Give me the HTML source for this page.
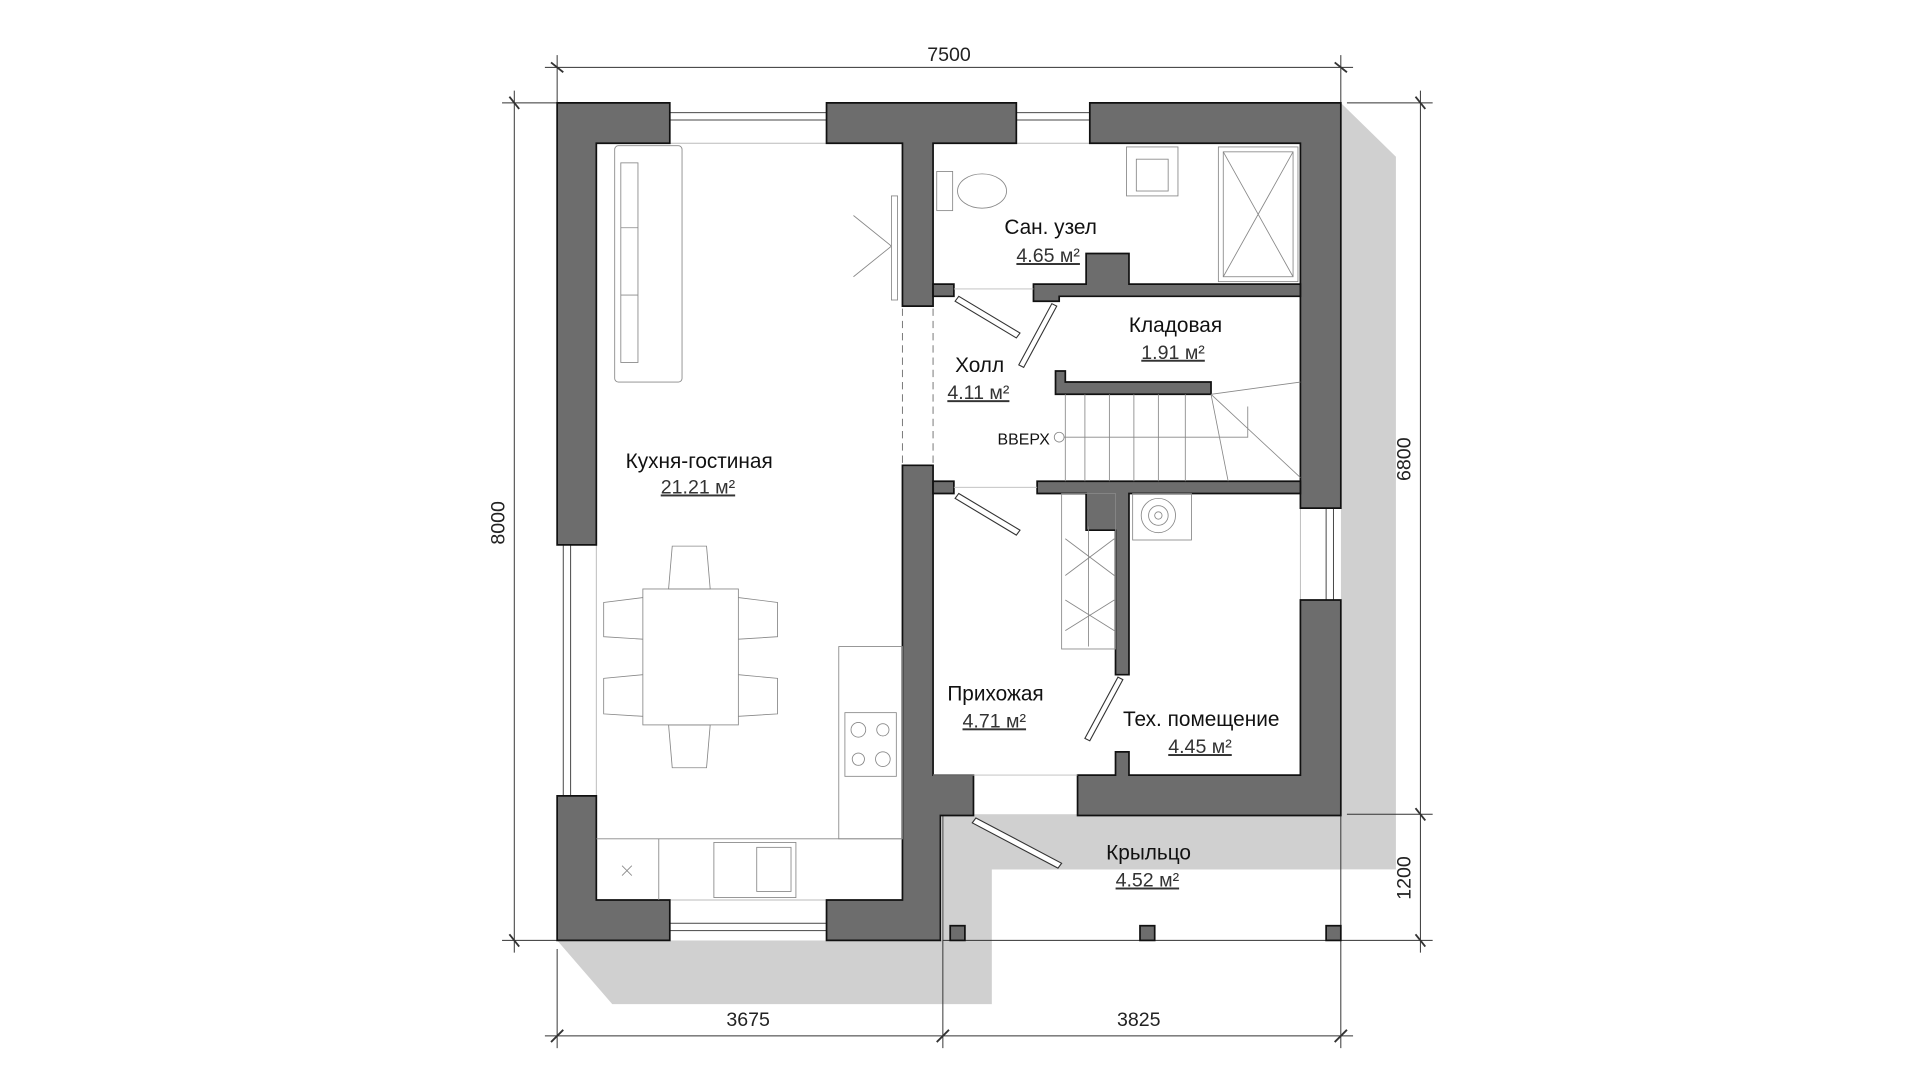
<!DOCTYPE html>
<html><head><meta charset="utf-8"><style>
html,body{margin:0;padding:0;background:#fff;width:1920px;height:1080px;overflow:hidden}
svg{display:block}
text{font-family:"Liberation Sans","DejaVu Sans",sans-serif}
</style></head><body>
<svg width="1920" height="1080" viewBox="0 0 1568 882" preserveAspectRatio="none" xmlns="http://www.w3.org/2000/svg">
<rect width="1568" height="882" fill="#fff"/>
<!-- shadow -->
<polygon points="455,768 500,820 810,820 810,710 1140,710 1140,128 1095,84 1095,665 770,665 770,768" fill="#d0d0d0"/>
<!-- house interior white -->
<rect x="455" y="84" width="315" height="684" fill="#fff"/>
<rect x="770" y="84" width="325" height="581" fill="#fff"/>
<rect x="770" y="665" width="325" height="45" fill="#d0d0d0"/>
<!-- dimension lines -->
<g stroke="#333" stroke-width="0.8" fill="none">
<line x1="445" y1="55" x2="1105" y2="55"/>
<line x1="455" y1="45" x2="455" y2="84"/><line x1="1095" y1="45" x2="1095" y2="84"/>
<line x1="450" y1="51" x2="460" y2="59" stroke-width="1.5"/><line x1="1090" y1="51" x2="1100" y2="59" stroke-width="1.5"/>
<line x1="420" y1="74" x2="420" y2="778"/>
<line x1="410" y1="84" x2="455" y2="84"/><line x1="410" y1="768" x2="455" y2="768"/>
<line x1="416" y1="79" x2="424" y2="89" stroke-width="1.5"/><line x1="416" y1="763" x2="424" y2="773" stroke-width="1.5"/>
<line x1="1160" y1="74" x2="1160" y2="778"/>
<line x1="1100" y1="84" x2="1170" y2="84"/><line x1="1100" y1="665" x2="1170" y2="665"/><line x1="1095" y1="768" x2="1170" y2="768"/>
<line x1="1156" y1="79" x2="1164" y2="89" stroke-width="1.5"/><line x1="1156" y1="660" x2="1164" y2="670" stroke-width="1.5"/><line x1="1156" y1="763" x2="1164" y2="773" stroke-width="1.5"/>
<line x1="445" y1="846" x2="1105" y2="846"/>
<line x1="455" y1="775" x2="455" y2="856"/><line x1="770" y1="665" x2="770" y2="856"/><line x1="1095" y1="665" x2="1095" y2="856"/>
<line x1="450" y1="851" x2="460" y2="841" stroke-width="1.5"/><line x1="765" y1="851" x2="775" y2="841" stroke-width="1.5"/><line x1="1090" y1="851" x2="1100" y2="841" stroke-width="1.5"/>
<line x1="770" y1="768" x2="1095" y2="768"/>
</g>
<g fill="#222" font-size="16">
<text x="775" y="50" text-anchor="middle">7500</text>
<text x="611" y="838" text-anchor="middle">3675</text>
<text x="930" y="838" text-anchor="middle">3825</text>
<text transform="translate(412,427) rotate(-90)" text-anchor="middle">8000</text>
<text transform="translate(1152,375) rotate(-90)" text-anchor="middle">6800</text>
<text transform="translate(1152,717) rotate(-90)" text-anchor="middle">1200</text>
</g>
<!-- windows -->
<g fill="#fff" stroke="#444" stroke-width="0.8">
<rect x="547" y="92" width="128" height="6"/><rect x="830" y="92" width="60" height="6"/>
<rect x="547" y="754" width="128" height="6"/>
<rect x="460" y="445" width="6" height="205"/>
<rect x="1083" y="415" width="6" height="75"/>
</g>
<g stroke="#bbb" stroke-width="0.8"><line x1="547" y1="117" x2="675" y2="117"/><line x1="830" y1="117" x2="890" y2="117"/><line x1="547" y1="735" x2="675" y2="735"/><line x1="487" y1="445" x2="487" y2="650"/><line x1="1062" y1="415" x2="1062" y2="490"/></g>
<!-- walls -->
<g fill="#6d6d6d" stroke="#111" stroke-width="1.4" stroke-linejoin="miter">
<polygon points="455,84 547,84 547,117 487,117 487,445 455,445"/>
<polygon points="455,650 487,650 487,735 547,735 547,768 455,768"/>
<polygon points="675,84 830,84 830,117 762,117 762,250 737,250 737,117 675,117"/>
<polygon points="890,84 1095,84 1095,415 1062,415 1062,117 890,117"/>
<polygon points="1062,490 1095,490 1095,666 880,666 880,633 911,633 911,614 922,614 922,633 1062,633"/>
<polygon points="737,380 762,380 762,633 795,633 795,666 768,666 768,768 675,768 675,735 737,735"/>
<polygon points="762,232 779,232 779,242 762,242"/>
<polygon points="844,232 887,232 887,207 922,207 922,232 1062,232 1062,242 865,242 865,246 844,246"/>
<polygon points="862,303 870,303 870,312 989,312 989,322 862,322"/>
<polygon points="762,393 779,393 779,403 762,403"/>
<polygon points="847,393 1062,393 1062,403 922,403 922,551 911,551 911,433 887,433 887,403 847,403"/>
<rect x="776" y="756" width="12" height="12"/><rect x="931" y="756" width="12" height="12"/><rect x="1083" y="756" width="12" height="12"/>
</g>
<!-- dashed opening -->
<g stroke="#777" stroke-width="0.8" stroke-dasharray="6,4"><line x1="737" y1="252" x2="737" y2="380"/><line x1="762" y1="252" x2="762" y2="380"/></g>
<!-- furniture -->
<g fill="none" stroke="#888" stroke-width="0.7">
<rect x="502" y="119" width="55" height="193" rx="3"/>
<rect x="507" y="133" width="14" height="163"/><line x1="507" y1="186" x2="521" y2="186"/><line x1="507" y1="241" x2="521" y2="241"/>
<rect x="525" y="481" width="78" height="111" fill="#fff"/>
<path d="M549,446h28l3,35h-34z"/><path d="M549,627h28l3,-35h-34z"/>
<path d="M525,488l-32,4v28l32,2"/><path d="M525,551l-32,3v29l32,2"/>
<path d="M603,488l32,4v28l-32,2"/><path d="M603,551l32,3v29l-32,2"/>
<rect x="685" y="528" width="52" height="157"/><line x1="487" y1="685" x2="737" y2="685"/><line x1="538" y1="685" x2="538" y2="735"/>
<rect x="690" y="582" width="42" height="52"/><circle cx="701" cy="596" r="6"/><circle cx="721" cy="596" r="5"/><circle cx="701" cy="620" r="5"/><circle cx="721" cy="620" r="6"/>
<rect x="583" y="688" width="67" height="45"/><rect x="618" y="692" width="28" height="36"/>
<path d="M508,707l8,8M516,707l-8,8"/>
<rect x="728" y="160" width="5" height="85"/><path d="M697,176l31,25M697,226l31,-25"/>
<rect x="765" y="140" width="13" height="32"/><ellipse cx="802" cy="156" rx="20" ry="14"/>
<rect x="920" y="120" width="42" height="40"/><rect x="928" y="130" width="26" height="26"/>
<rect x="995" y="120" width="65" height="110"/><rect x="999" y="124" width="57" height="102"/><path d="M999,124l57,102M1056,124l-57,102"/>
<rect x="925" y="403" width="48" height="38"/><circle cx="946" cy="421" r="14"/><circle cx="946" cy="421" r="8"/><circle cx="946" cy="421" r="3"/>
<rect x="867" y="403" width="44" height="127"/><path d="M870,440l40,30M870,470l40,-30M870,490l40,25M870,515l40,-25"/><line x1="889" y1="430" x2="889" y2="528"/>
<line x1="870" y1="322" x2="870" y2="393"/>
<line x1="886" y1="322" x2="886" y2="393"/><line x1="906" y1="322" x2="906" y2="393"/><line x1="926" y1="322" x2="926" y2="393"/><line x1="946" y1="322" x2="946" y2="393"/><line x1="968" y1="322" x2="968" y2="393"/>
<path d="M989,322l73,-10M989,322l73,68M989,322l14,71M869,357h150v-25"/>
<circle cx="865" cy="357" r="4"/>
</g>
<!-- doors -->
<g fill="#fff" stroke="#333" stroke-width="0.9">
<path d="M783,242l50,30l-3,4l-50,-30z"/>
<path d="M863,250l-27,50l-4,-2l27,-50z"/>
<path d="M783,403l50,30l-3,4l-50,-30z"/>
<path d="M917,555l-27,50l-4,-2l27,-50z"/>
<path d="M797,668l70,37l-3,4l-70,-37z"/>
</g>
<g stroke="#bbb" stroke-width="0.7"><line x1="779" y1="236" x2="844" y2="236"/><line x1="779" y1="398" x2="847" y2="398"/><line x1="762" y1="633" x2="880" y2="633"/></g>
<!-- labels -->
<g fill="#111" font-size="17" text-anchor="middle">
<text x="858" y="191">Сан. узел</text>
<text x="960" y="271">Кладовая</text>
<text x="800" y="304">Холл</text>
<text x="571" y="382">Кухня-гостиная</text>
<text x="813" y="572">Прихожая</text>
<text x="981" y="593">Тех. помещение</text>
<text x="938" y="702">Крыльцо</text>
<text x="836" y="363" font-size="13">ВВЕРХ</text>
</g>
<g fill="#333" font-size="16" text-anchor="middle" text-decoration="underline">
<text x="856" y="214">4.65 м²</text>
<text x="958" y="293">1.91 м²</text>
<text x="799" y="326">4.11 м²</text>
<text x="570" y="403">21.21 м²</text>
<text x="812" y="594">4.71 м²</text>
<text x="980" y="615">4.45 м²</text>
<text x="937" y="724">4.52 м²</text>
</g>
</svg>
</body></html>
